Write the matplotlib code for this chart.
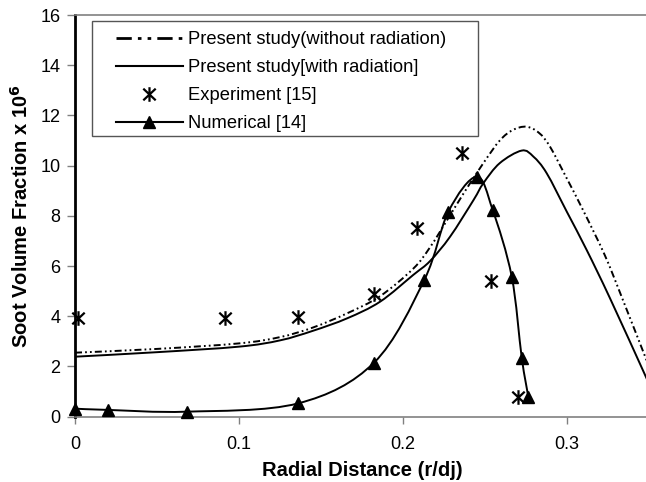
import numpy as np
import matplotlib
matplotlib.use("Agg")
import matplotlib.pyplot as plt
from matplotlib.path import Path
from matplotlib.patches import PathPatch, Rectangle
from matplotlib.lines import Line2D

plt.rcParams['font.family'] = ['Liberation Sans', 'DejaVu Sans']

# ---- data ----
no_rad_x = [0.0, 0.05, 0.10, 0.125, 0.145, 0.166, 0.186, 0.2063, 0.2165, 0.2266, 0.237,
            0.249, 0.259, 0.267, 0.2754, 0.283, 0.2896, 0.2998, 0.31, 0.323, 0.3333, 0.35]
no_rad_y = [2.55, 2.70, 2.92, 3.17, 3.55, 4.12, 4.80, 5.90, 6.75, 7.80, 8.90,
            10.10, 11.00, 11.42, 11.55, 11.30, 10.76, 9.50, 8.20, 6.44, 4.78, 2.00]

rad_x = [0.0, 0.05, 0.10, 0.125, 0.145, 0.166, 0.186, 0.2063, 0.2165, 0.2287, 0.243,
         0.249, 0.259, 0.2724, 0.2795, 0.2876, 0.30, 0.312, 0.3262, 0.3476, 0.35]
rad_y = [2.39, 2.57, 2.79, 3.04, 3.42, 3.92, 4.58, 5.65, 6.20, 7.17, 8.63,
         9.30, 10.10, 10.60, 10.36, 9.70, 8.15, 6.64, 4.72, 1.66, 1.30]

exp_x = [0.002, 0.0915, 0.136, 0.1823, 0.2083, 0.2362, 0.2535, 0.2703]
exp_y = [3.95, 3.92, 3.98, 4.89, 7.50, 10.49, 5.42, 0.80]

num_x = [0.0, 0.0203, 0.068, 0.136, 0.1823, 0.213, 0.2277, 0.2449, 0.2547, 0.2663, 0.2724, 0.2764]
num_y = [0.32, 0.27, 0.20, 0.53, 2.15, 5.45, 8.17, 9.56, 8.23, 5.58, 2.35, 0.80]

labels = ['Present study(without radiation)', 'Present study[with radiation]',
          'Experiment [15]', 'Numerical [14]']
x_ticks = [0, 0.1, 0.2, 0.3]
x_ticklabels = ['0', '0.1', '0.2', '0.3']
y_ticks = [0, 2, 4, 6, 8, 10, 12, 14, 16]


def smooth_path(xs, ys):
    """Catmull-Rom style smoothing (Excel-like) built as Bezier path from data."""
    p = np.column_stack([xs, ys]).astype(float)
    n = len(p)
    verts = [p[0]]
    codes = [Path.MOVETO]
    for i in range(n - 1):
        p0 = p[i - 1] if i > 0 else p[i]
        p1 = p[i]
        p2 = p[i + 1]
        p3 = p[i + 2] if i + 2 < n else p[i + 1]
        c1 = p1 + (p2 - p0) / 6.0
        c2 = p2 - (p3 - p1) / 6.0
        verts += [c1, c2, p2]
        codes += [Path.CURVE4] * 3
    return Path(verts, codes)


fig = plt.figure(figsize=(6.46, 4.82), dpi=100)
W, H = 646, 482
ax = fig.add_axes([75 / W, 65.3 / H, 574 / W, 401.7 / H])
ax.set_xlim(0, 0.35)
ax.set_ylim(0, 16)

dashdot = (0, (3.6, 1.6, 0.9, 1.6, 0.9, 1.6))
lw = 1.4

ax.add_patch(PathPatch(smooth_path(no_rad_x, no_rad_y), fill=False, lw=lw,
                       linestyle=dashdot, edgecolor='black', zorder=3))
ax.add_patch(PathPatch(smooth_path(rad_x, rad_y), fill=False, lw=lw,
                       edgecolor='black', zorder=3))
ax.add_patch(PathPatch(smooth_path(num_x, num_y), fill=False, lw=lw,
                       edgecolor='black', zorder=3))

star = Path([(0, -1), (0, 1), (-0.85, -0.8), (0.85, 0.8), (-0.85, 0.8), (0.85, -0.8)],
            [Path.MOVETO, Path.LINETO, Path.MOVETO, Path.LINETO, Path.MOVETO, Path.LINETO])

ax.plot(exp_x, exp_y, linestyle='none', marker=star, ms=10.5, mew=1.6,
        color='black', zorder=4, clip_on=False)
ax.plot(num_x, num_y, linestyle='none', marker='^', ms=8.5, color='black',
        zorder=4, clip_on=False)

# legend frame (drawn separately to match the asymmetric padding)
ax.add_patch(Rectangle((0.0296, 0.6988), 0.702 - 0.0296, 0.9858 - 0.6988,
                       transform=ax.transAxes, facecolor='white', edgecolor='#555555',
                       lw=1.0, zorder=5))

handles = [
    Line2D([], [], color='black', lw=2.0, linestyle=(0, (5.5, 2.2, 1.3, 2.2, 1.3, 2.2))),
    Line2D([], [], color='black', lw=1.5),
    Line2D([], [], linestyle='none', marker=star, ms=10.5, mew=1.6, color='black'),
    Line2D([], [], color='black', lw=1.5, marker='^', ms=8.5),
]
leg = ax.legend(handles, labels, loc='upper left', bbox_to_anchor=(0.0714, 0.960),
                borderaxespad=0, borderpad=0, fontsize=13.2, handlelength=3.65,
                handletextpad=0.3, labelspacing=0.6, frameon=False)
leg.set_zorder(6)

ax.set_xticks(x_ticks)
ax.set_xticklabels(x_ticklabels)
ax.set_yticks(y_ticks)
ax.tick_params(axis='x', direction='out', length=5, width=1, color='#808080',
               pad=9, labelsize=13)
ax.tick_params(axis='y', direction='out', length=5.5, width=1, color='#808080',
               pad=5, labelsize=13)

for s in ['top', 'bottom']:
    ax.spines[s].set_color('#808080')
    ax.spines[s].set_linewidth(1.2)
ax.spines['left'].set_color('black')
ax.spines['left'].set_linewidth(2.0)
ax.spines['right'].set_visible(False)

ax.set_xlabel('Radial Distance (r/dj)', fontsize=14.5, fontweight='bold', labelpad=6)
ax.set_ylabel('Soot Volume Fraction x 10$^\\mathbf{6}$', fontsize=14.5,
              fontweight='bold', labelpad=6)

fig.savefig('out.png', dpi=100)
